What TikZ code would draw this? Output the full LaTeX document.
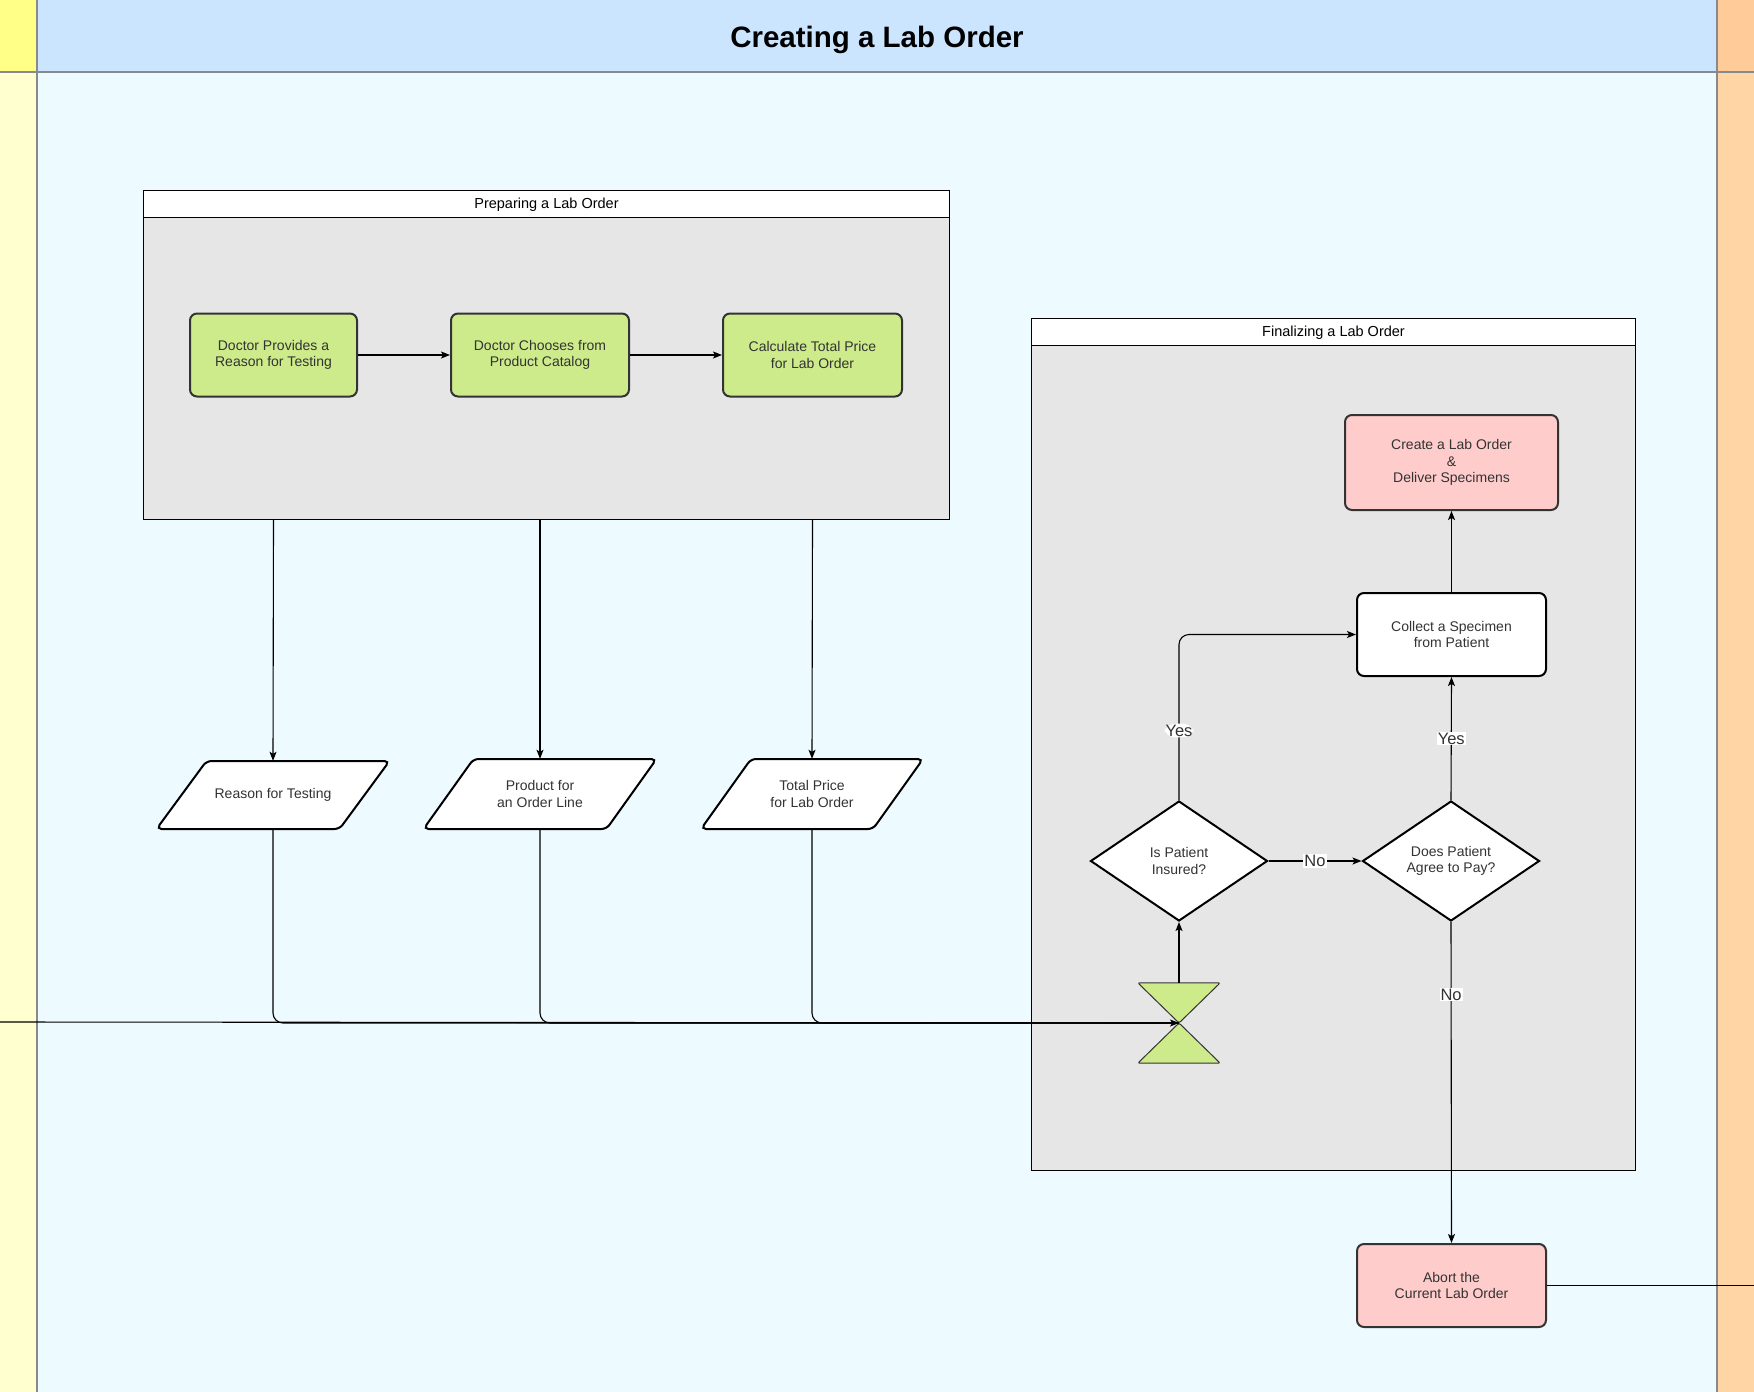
\documentclass[tikz,border=0pt]{standalone}
\usepackage{fontspec}
\setmainfont{Liberation Sans}
\usetikzlibrary{shapes.geometric,arrows.meta,calc}

\definecolor{hdrblue}{HTML}{CCE5FF}
\definecolor{pagebg}{HTML}{EDFAFF}
\definecolor{laneyel}{HTML}{FFFFD0}
\definecolor{laneyeltop}{HTML}{FFFF88}
\definecolor{laneorg}{HTML}{FFD5A6}
\definecolor{laneorgtop}{HTML}{FFCC99}
\definecolor{framegray}{HTML}{E6E6E6}
\definecolor{taskgreen}{HTML}{CDEB8B}
\definecolor{taskpink}{HTML}{FFCCCC}
\definecolor{edgegray}{HTML}{333333}
\definecolor{sepgray}{HTML}{87898C}

% data object: slanted outline plus a named text node of the same extent
% #1 name, #2 x, #3 y (centre), #4 width, #5 height, #6 text
\newcommand{\dataobject}[6]{%
  \filldraw[dataoutline]
    ({#2-#4/2+50},{#3-#5/2}) -- ({#2+#4/2},{#3-#5/2}) --
    ({#2+#4/2-50},{#3+#5/2}) -- ({#2-#4/2},{#3+#5/2}) -- cycle;
  \node[txt, minimum width=#4pt, minimum height=#5pt, inner sep=0pt] (#1) at (#2,#3) {#6};}

\begin{document}
\begin{tikzpicture}[x=1pt,y=-1pt,
  txt/.style={font=\fontsize{14}{16.5}\selectfont, text=edgegray, align=center},
  task/.style={txt, rectangle, rounded corners=7pt, draw=edgegray, line width=2pt, inner sep=0pt},
  greentask/.style={task, fill=taskgreen},
  pinktask/.style={task, fill=taskpink},
  whitetask/.style={task, fill=white, draw=black},
  decision/.style={txt, diamond, draw=black, fill=white, line width=2pt, inner sep=0pt,
    aspect=1.47, minimum width=177pt, minimum height=120pt},
  dataoutline/.style={draw=black, fill=white, line width=2pt, rounded corners=5pt},
  flow/.style={draw=black, line width=1.1pt, -{Stealth[length=9pt,width=7pt,inset=2pt]}},
  link/.style={draw=black, line width=1.1pt},
  edgelabel/.style={font=\fontsize{16.5}{18}\selectfont, fill=white, inner sep=1pt, text=edgegray},
  framebox/.style={draw=black, line width=1pt, fill=framegray, anchor=north west, inner sep=0pt},
  framehead/.style={draw=black, line width=1pt, fill=white, anchor=north west, inner sep=0pt,
    font=\fontsize{14.5}{16}\selectfont, text=black, text depth=1pt},
  sep/.style={draw=sepgray, line width=2pt}
]
\useasboundingbox (0,0) rectangle (1754,1392);

% pool background, header band and lane strips
\fill[pagebg] (37,72) rectangle (1717,1392);
\fill[hdrblue] (37,0) rectangle (1717,72);
\fill[laneyeltop] (0,0) rectangle (37,72);
\fill[laneyel] (0,72) rectangle (37,1392);
\fill[laneorgtop] (1717,0) rectangle (1754,72);
\fill[laneorg] (1717,72) rectangle (1754,1392);
\draw[sep] (0,72) -- (1754,72);
\draw[sep] (37,0) -- (37,1392);
\draw[sep] (1717,0) -- (1717,1392);

\node[font=\fontsize{29.5}{32}\selectfont\bfseries, text=black] (title) at (877,40) {Creating a Lab Order};

% sub-process frames
\node[framebox, minimum width=806pt, minimum height=329pt] (fa) at (143,190) {};
\node[framehead, minimum width=806pt, minimum height=27pt] (fah) at (143,190) {Preparing a Lab Order};
\node[framebox, minimum width=604pt, minimum height=852pt] (fb) at (1031,318) {};
\node[framehead, minimum width=604pt, minimum height=27pt] (fbh) at (1031,318) {Finalizing a Lab Order};

% preparing tasks
\node[greentask, minimum width=167pt, minimum height=83pt] (b1) at (273.5,355) {Doctor Provides a\\Reason for Testing};
\node[greentask, minimum width=178pt, minimum height=83pt] (b2) at (540,355) {Doctor Chooses from\\Product Catalog};
\node[greentask, minimum width=179pt, minimum height=83pt] (b3) at (812.5,355) {Calculate Total Price\\for Lab Order};

% data objects
\dataobject{p1}{273}{795}{233}{68}{Reason for Testing}
\dataobject{p2}{540}{794}{233}{70}{Product for\\an Order Line}
\dataobject{p3}{812}{794}{222}{70}{Total Price\\for Lab Order}

% finalizing elements
\node[pinktask, minimum width=213pt, minimum height=95pt] (create) at (1451.5,462.5) {Create a Lab Order\\\&\\Deliver Specimens};
\node[whitetask, minimum width=189pt, minimum height=83pt] (collect) at (1451.5,634.5) {Collect a Specimen\\from Patient};
\node[decision] (d1) at (1179,861) {Is Patient\\Insured?};
\node[decision] (d2) at (1451,861) {Does Patient\\Agree to Pay?};
\node[minimum width=82pt, minimum height=80pt, inner sep=0pt] (hg) at (1179,1023) {};
\filldraw[fill=taskgreen, draw=edgegray, line width=1pt, rounded corners=2pt]
  (hg.north west) -- (hg.north east) -- (hg.center) -- cycle
  (hg.south west) -- (hg.south east) -- (hg.center) -- cycle;
\node[pinktask, minimum width=189pt, minimum height=83pt] (abort) at (1451.5,1285.5) {Abort the\\Current Lab Order};

\coordinate (lanein) at (0,1022);
\coordinate (laneout) at (1754,1285.5);

% preparing flow
\draw[flow] (b1) -- (b2);
\draw[flow] (b2) -- (b3);
\draw[flow] (b1 |- fa.south) -- (p1.north);
\draw[flow] (b2 |- fa.south) -- (p2.north);
\draw[flow] (b3 |- fa.south) -- (p3.north);

% data merging into the gateway
\draw[link, rounded corners=10pt] (p1.south) |- (hg.center);
\draw[link, rounded corners=10pt] (p2.south) |- (hg.center);
\draw[link, rounded corners=10pt] (p3.south) |- (hg.center);
\draw[flow] (lanein) -- (hg.center);

% finalizing flow
\draw[flow] (hg.north) -- (d1.south);
\draw[flow, rounded corners=10pt] (d1.north) |- node[edgelabel, pos=0.21] {Yes} (collect.west);
\draw[flow] (d1.east) -- node[edgelabel] {No} (d2.west);
\draw[flow] (d2.north) -- node[edgelabel] {Yes} (collect.south);
\draw[flow] (collect.north) -- (create.south);
\draw[flow] (d2.south) -- node[edgelabel, pos=0.226] {No} (abort.north);
\draw[link] (abort.east) -- (laneout);
\end{tikzpicture}
\end{document}
